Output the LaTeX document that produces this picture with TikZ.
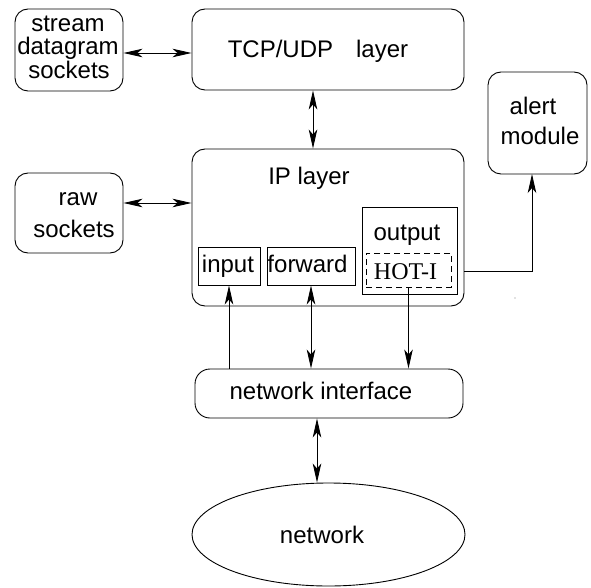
\documentclass[tikz,border=0pt]{standalone}
\usepackage{fontspec}
\setmainfont{Liberation Sans}
\newfontfamily\timesf{Liberation Serif}
\usetikzlibrary{arrows.meta,shapes.geometric}
\begin{document}
\begin{tikzpicture}[x=1pt,y=-1pt,line width=0.9pt,
  rbox/.style={draw,rounded corners=13pt,inner sep=0pt},
  sbox/.style={draw,inner sep=0pt},
  txt/.style={anchor=base,inner sep=0pt,font=\fontsize{24}{28}\selectfont},
  tip/.tip={Stealth[length=19pt,width=8.5pt,inset=5pt]},
  darr/.style={tip-tip},
  arr/.style={-tip}]
\path[use as bounding box] (0,0) rectangle (591,588);

% boxes
\node[rbox,minimum width=108pt,minimum height=82pt] (stream) at (69,50) {};
\node[rbox,minimum width=272pt,minimum height=81pt] (tcp) at (328,49.5) {};
\node[rbox,minimum width=99pt,minimum height=102pt] (alert) at (537.5,123) {};
\node[rbox,minimum width=272pt,minimum height=157pt] (ip) at (328,227.5) {};
\node[rbox,minimum width=108pt,minimum height=80pt] (raw) at (69,213) {};
\node[sbox,minimum width=95pt,minimum height=87pt] (output) at (409.5,250.5) {};
\node[sbox,dashed,dash pattern=on 6pt off 4pt,minimum width=85pt,minimum height=34pt] (hoti) at (408.5,270) {};
\node[sbox,minimum width=62pt,minimum height=38pt] (input) at (229,266) {};
\node[sbox,minimum width=88pt,minimum height=38pt] (forward) at (311,266) {};
\node[rbox,rounded corners=15pt,minimum width=268pt,minimum height=49pt] (ni) at (329,393.5) {};
\node[draw,ellipse,inner sep=0pt,minimum width=273pt,minimum height=103pt] (net) at (328.5,534.5) {};

% texts
\node[txt] (t1) at (68,32) {stream};
\node[txt] (t2) at (68,55) {datagram};
\node[txt] (t3) at (69,79) {sockets};
\node[txt] (t4) at (318,58) {TCP/UDP\hspace{23pt}layer};
\node[txt] (t5) at (533,115) {alert};
\node[txt] (t6) at (540,145) {module};
\node[txt] (t7) at (309,185) {IP layer};
\node[txt] (t8) at (78,205) {raw};
\node[txt] (t9) at (74,237) {sockets};
\node[txt] (t10) at (407,240) {output};
\node[txt] (t11) at (228,272) {input};
\node[txt] (t12) at (307.5,272) {forward};
\node[txt,font=\timesf\fontsize{24}{28}\selectfont] (t13) at (405.5,279) {HOT-I};
\node[txt] (t14) at (321,399) {network interface};
\node[txt] (t15) at (322,543) {network};

% connectors
\draw[darr] ([yshift=-3pt]stream.east) -- ([yshift=-3pt]stream.east -| tcp.west);
\draw[darr] ([xshift=-15pt]tcp.south) -- ([xshift=-15pt]ip.north);
\draw[darr] ([yshift=10pt]raw.east) -- ([yshift=10pt]raw.east -| ip.west);
\coordinate (alertfrom) at (464,271);
\coordinate (alertin) at (532,174);
\draw[arr] (alertfrom) -| (alertin);
\draw[arr] (input.south |- ni.north) -- (input.south);
\draw[darr] (forward.south) -- (forward.south |- ni.north);
\draw[arr] (hoti.south) -- (hoti.south |- ni.north);
\draw[darr] ([xshift=-12pt]ni.south) -- ([xshift=-12pt]ni.south |- net.north);

\fill[gray] (515,298) circle (0.7pt);
\end{tikzpicture}
\end{document}
